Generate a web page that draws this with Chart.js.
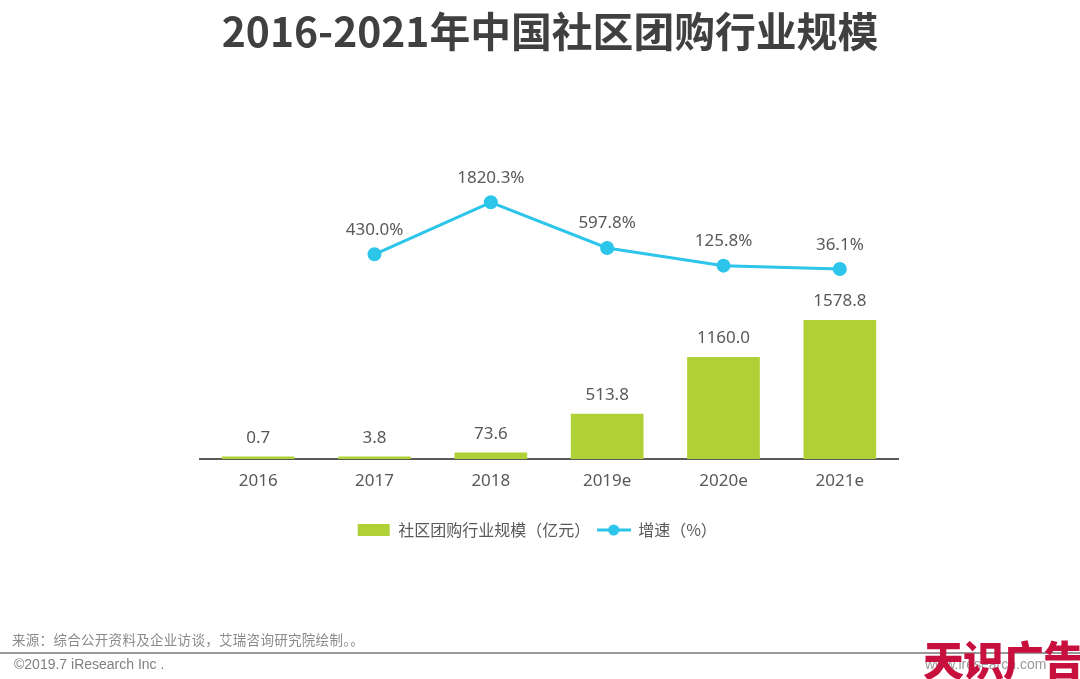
<!DOCTYPE html>
<html><head><meta charset="utf-8">
<script src="https://cdn.jsdelivr.net/npm/chart.js@4"></script>
<style>
html,body{margin:0;padding:0;background:#fff;width:1080px;height:679px;overflow:hidden;font-family:"Noto Sans CJK SC","Noto Sans",sans-serif}
#wrap{position:absolute;left:0;top:0;width:1080px;height:679px}
.t{position:absolute;white-space:nowrap}
</style></head><body>
<div id="wrap"><canvas id="c" width="1080" height="679"></canvas></div>
<div class="t" style="left:0;width:1100px;text-align:center;top:3px;font-size:40.8px;font-weight:700;color:#404040;line-height:54px">2016-2021年中国社区团购行业规模</div>
<div class="t" style="left:12px;top:630px;font-size:13.5px;letter-spacing:0.3px;color:#8a8a8a;line-height:18px">来源：综合公开资料及企业访谈，艾瑞咨询研究院绘制。。</div>
<div style="position:absolute;left:0;top:652px;width:1080px;height:2px;background:#9a9a9a"></div>
<div class="t" style="left:14px;top:655px;font-size:14px;color:#7f7f7f;line-height:18px;font-family:'Liberation Sans'">©2019.7 iResearch Inc .</div>
<div class="t" style="left:925px;top:655px;font-size:14px;color:#9a9a9a;line-height:18px;font-family:'Liberation Sans'">www.iresearch.com</div>
<div class="t" style="left:923px;top:635px;font-size:41px;font-weight:900;color:#c8103f;line-height:46px;letter-spacing:-1px">天识广告</div>
<script>
const categories=["2016","2017","2018","2019e","2020e","2021e"];
const scaleValues=[0.7,3.8,73.6,513.8,1160.0,1578.8];
const scaleLabels=["0.7","3.8","73.6","513.8","1160.0","1578.8"];
const growthValues=[null,430.0,1820.3,597.8,125.8,36.1];
const growthLabels=["","430.0%","1820.3%","597.8%","125.8%","36.1%"];
const barColor='#afd136', lineColor='#2dc5ea';
function swatch(draw){const s=document.createElement('canvas');s.width=34;s.height=14;draw(s.getContext('2d'));return s;}
const barSwatch=swatch(g=>{g.fillStyle=barColor;g.fillRect(1,1,32,12);});
const lineSwatch=swatch(g=>{g.strokeStyle=lineColor;g.lineWidth=3;g.beginPath();g.moveTo(0,7);g.lineTo(34,7);g.stroke();g.fillStyle=lineColor;g.beginPath();g.arc(17,7,5.5,0,Math.PI*2);g.fill();});
const labelPlugin={id:'labels',
 afterLayout(ch){ch.legend.left-=12;ch.legend.right-=12;},
 afterDatasetsDraw(ch){
  const x=ch.ctx;x.save();x.font='17px "Noto Sans","Noto Sans CJK SC",sans-serif';x.fillStyle='#595959';x.textAlign='center';x.textBaseline='alphabetic';
  ch.getDatasetMeta(0).data.forEach((e,i)=>x.fillText(scaleLabels[i],e.x,e.y-14));
  ch.getDatasetMeta(1).data.forEach((e,i)=>{if(growthLabels[i])x.fillText(growthLabels[i],e.x,e.y-19.5)});
  x.restore();}};
new Chart(document.getElementById('c'),{
 type:'bar',
 data:{labels:categories,datasets:[
  {type:'bar',label:'社区团购行业规模（亿元）',data:scaleValues,yAxisID:'y',backgroundColor:barColor,barPercentage:0.625,categoryPercentage:1,minBarLength:2.5,order:1},
  {type:'line',label:'增速（%）',data:growthValues,yAxisID:'y1',borderColor:lineColor,backgroundColor:lineColor,borderWidth:3,pointRadius:5.5,pointHoverRadius:5.5,tension:0,order:0}
 ]},
 options:{responsive:false,animation:false,
  layout:{padding:{left:200,right:182,top:150,bottom:131}},
  plugins:{tooltip:{enabled:false},
   legend:{display:true,position:'bottom',align:'center',labels:{color:'#595959',font:{size:16,family:'"Noto Sans CJK SC"'},usePointStyle:true,pointStyleWidth:33,padding:7,
     generateLabels(ch){return ch.data.datasets.map((d,i)=>({text:d.label,datasetIndex:i,pointStyle:i===0?barSwatch:lineSwatch,fillStyle:d.backgroundColor,strokeStyle:d.backgroundColor,lineWidth:0,fontColor:'#595959'}));}}}},
  scales:{
   x:{grid:{display:false,drawTicks:false},border:{color:'#595959',width:2},ticks:{color:'#595959',padding:12,font:{size:17,family:'"Noto Sans"'}},afterFit(s){s.height=56;}},
   y:{display:false,min:0,max:3510},
   y1:{display:false,min:-5044,max:3218}
  }},
 plugins:[labelPlugin]
});
</script>
</body></html>
